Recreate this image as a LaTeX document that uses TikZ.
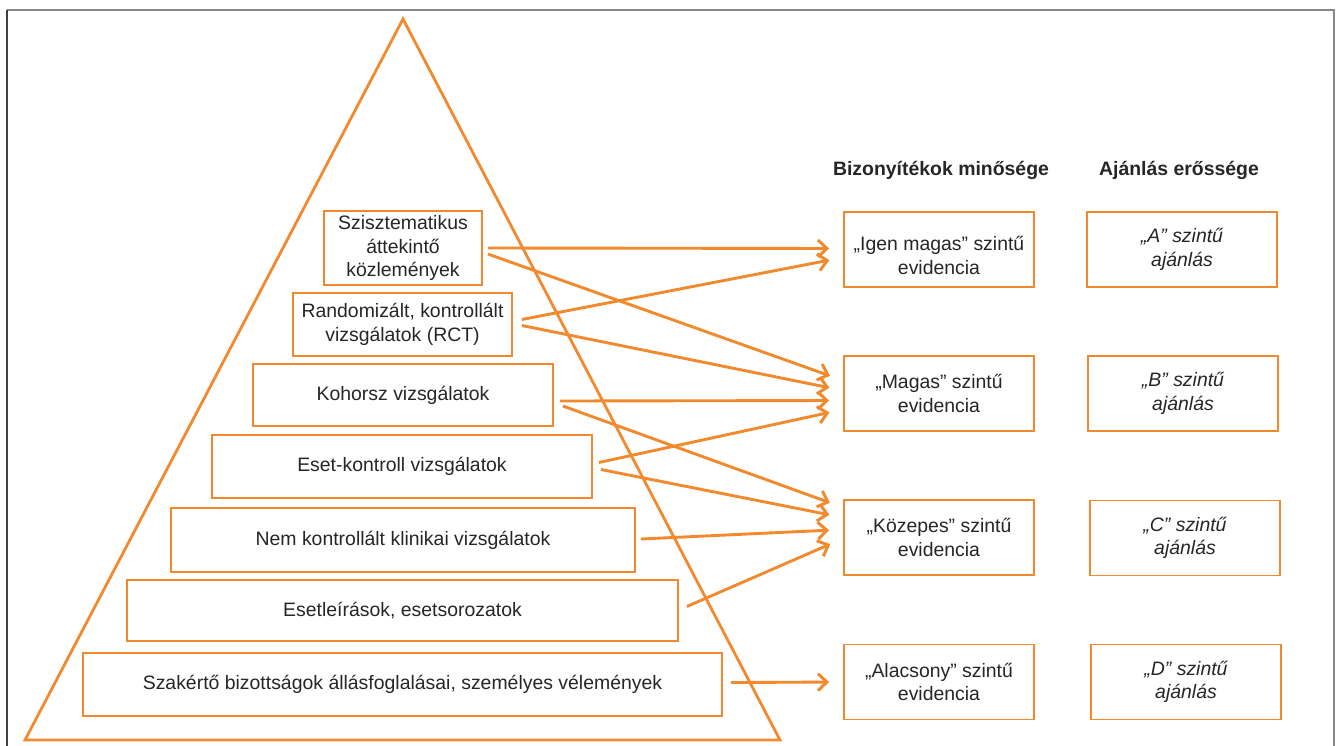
\documentclass[tikz,border=0pt]{standalone}
\usepackage{fontspec}
\setmainfont{Liberation Sans}
\usepackage{tikz}
\usetikzlibrary{arrows.meta,shapes}
\definecolor{narancs}{RGB}{242,137,45}
\definecolor{keret}{RGB}{135,135,135}
\tikzset{
  doboz/.style={draw=narancs,line width=1.8pt,fill=white,align=center,text=black!85,font=\fontsize{19.5}{23.5}\selectfont,inner sep=1pt},
  szint/.style={doboz,minimum width=190bp,minimum height=75bp},
  ajanl/.style={szint,font=\fontsize{19.5}{23.5}\selectfont\itshape},
  fejlec/.style={font=\fontsize{19.5}{23.5}\selectfont\bfseries,text=black!85},
  nyil/.style={-{Straight Barb[length=9pt,width=17pt,line width=3pt]},draw=narancs,line width=2.9pt,shorten >=14bp}
}
\begin{document}
\begin{tikzpicture}

\useasboundingbox (0bp,0bp) rectangle (1337bp,-746bp);
\draw [keret,line width=1.8pt] (7bp,-10bp) -- (1334bp,-10bp) -- (1334bp,-746bp);
\draw [black!75,line width=1.6pt] (7bp,-746bp) -- (7bp,-10bp);

\draw [narancs,line width=2.8pt,line join=miter] (403bp,-19bp) -- (25bp,-740bp) -- (780bp,-740bp) -- cycle;

\node (SR) at (403bp,-248bp)[doboz,minimum width=158bp,minimum height=74bp] {Szisztematikus\\ áttekintő\\ közlemények};
\node (RCT) at (402.5bp,-324.5bp)[doboz,minimum width=219bp,minimum height=63bp] {Randomizált, kontrollált\\ vizsgálatok (RCT)};
\node (KOH) at (403bp,-395bp)[doboz,minimum width=300bp,minimum height=62bp] {Kohorsz vizsgálatok};
\node (EK) at (402bp,-466.5bp)[doboz,minimum width=380bp,minimum height=63bp] {Eset-kontroll vizsgálatok};
\node (NK) at (403bp,-540bp)[doboz,minimum width=464bp,minimum height=64bp] {Nem kontrollált klinikai vizsgálatok};
\node (EL) at (402.5bp,-610.5bp)[doboz,minimum width=551bp,minimum height=61bp] {Esetleírások, esetsorozatok};
\node (SZ) at (402.5bp,-684.5bp)[doboz,minimum width=639bp,minimum height=63bp] {Szakértő bizottságok állásfoglalásai, személyes vélemények};

\node (H1) at (941bp,-170bp)[fejlec] {Bizonyítékok minősége};
\node (H2) at (1179bp,-170bp)[fejlec] {Ajánlás erőssége};

\node (IM) at (939bp,-249.5bp)[szint] {\rule{0pt}{26pt}„Igen magas” szintű\\ evidencia};
\node (MA) at (939bp,-393.5bp)[szint] {„Magas” szintű\\ evidencia};
\node (KO) at (939bp,-537.5bp)[szint] {„Közepes” szintű\\ evidencia};
\node (AL) at (939bp,-682bp)[szint] {„Alacsony” szintű\\ evidencia};

\node (A) at (1182bp,-249.5bp)[ajanl] {„A” szintű\\ ajánlás};
\node (B) at (1183bp,-393.5bp)[ajanl] {„B” szintű\\ ajánlás};
\node (C) at (1185bp,-538bp)[ajanl] {„C” szintű\\ ajánlás};
\node (D) at (1186bp,-682bp)[ajanl] {„D” szintű\\ ajánlás};

\draw [nyil] ([xshift=5bp]SR.east) -- ([yshift=1bp]IM.west);
\draw [nyil] ([xshift=5bp,yshift=-6bp]SR.east) -- ([yshift=13bp]MA.west);
\draw [nyil] ([xshift=9bp,yshift=5bp]RCT.east) -- ([yshift=-8bp]IM.west);
\draw [nyil] ([xshift=9bp,yshift=-1bp]RCT.east) -- ([yshift=3bp]MA.west);
\draw [nyil] ([xshift=6bp,yshift=-6bp]KOH.east) -- ([yshift=-7bp]MA.west);
\draw [nyil] ([xshift=9bp,yshift=-11bp]KOH.east) -- ([yshift=30bp]KO.west);
\draw [nyil] ([xshift=6bp,yshift=4bp]EK.east) -- ([yshift=-16bp]MA.west);
\draw [nyil] ([xshift=8bp,yshift=-3bp]EK.east) -- ([yshift=20bp]KO.west);
\draw [nyil] ([xshift=5bp,yshift=1bp]NK.east) -- ([yshift=8bp]KO.west);
\draw [nyil] ([xshift=8bp,yshift=4bp]EL.east) -- ([yshift=-1bp]KO.west);
\draw [nyil] ([xshift=8bp,yshift=2bp]SZ.east) -- (AL.west);
\end{tikzpicture}
\end{document}
